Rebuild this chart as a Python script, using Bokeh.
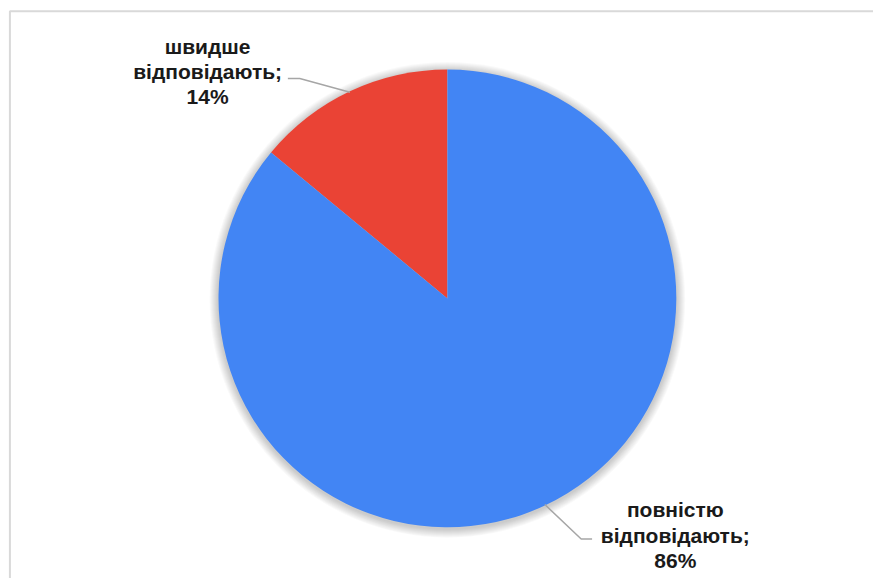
import math
from bokeh.plotting import figure
from bokeh.models import Range1d, ColumnDataSource
from bokeh.core.properties import value
from bokeh.embed import file_html
from bokeh.resources import INLINE

categories = ["швидше відповідають", "повністю відповідають"]
values = [14, 86]
colors = ["#EA4335", "#4285F4"]

W, H = 873, 578
RW, RH = 881, 586
# data coords: x = reference x, y = RH - reference y
p = figure(width=W, height=H, output_backend="svg", toolbar_location=None,
           x_range=Range1d(0, RW), y_range=Range1d(0, RH),
           x_axis_type=None, y_axis_type=None, min_border=0)
p.grid.visible = False
p.outline_line_color = None
p.background_fill_color = "white"
p.border_fill_color = "white"

# frame
p.line([9.5, 9.5, 900], [-20, RH - 11, RH - 11], line_color="#d9d9d9", line_width=2)

cx, cy, r = 451, RH - 302, 231

# shadow
for k in range(9):
    p.circle(x=cx, y=cy - 1.5, radius=r + 1 + k, fill_color="black",
             fill_alpha=0.022, line_color=None)

total = sum(values)
starts, ends, mids = [], [], []
acc = 0.0
for v in values:
    a0 = math.pi / 2 + 2 * math.pi * acc / total
    acc += v
    a1 = math.pi / 2 + 2 * math.pi * acc / total
    starts.append(a0)
    ends.append(a1)
    mids.append((a0 + a1) / 2)

src = ColumnDataSource(dict(start=starts, end=ends, color=colors))
p.wedge(x=cx, y=cy, radius=r, start_angle="start", end_angle="end",
        direction="anticlock", fill_color="color", line_color=None, source=src)

# leader lines and labels
label_pos = [(209, RH - 72), (681, RH - 542)]
elbows = [((302, RH - 79), (290, RH - 79)), ((586, RH - 546), (597, RH - 546))]
for cat, v, m, (lx, ly), (e1, e2) in zip(categories, values, mids, label_pos, elbows):
    ex = cx + r * math.cos(m)
    ey = cy + r * math.sin(m)
    p.line([ex, e1[0], e2[0]], [ey, e1[1], e2[1]], line_color="#a6a6a6", line_width=1.5)
    words = cat.split(" ")
    txt = "\n".join(words[:-1] + [words[-1] + ";", f"{v}%"])
    p.text(x=[lx], y=[ly], text=[txt], text_font=value("Liberation Sans"),
           text_font_style="bold", text_font_size="21px", text_color="#1a1a1a",
           text_align="center", text_baseline="middle", text_line_height=1.1)

open("out.html", "w").write(file_html(p, INLINE))
